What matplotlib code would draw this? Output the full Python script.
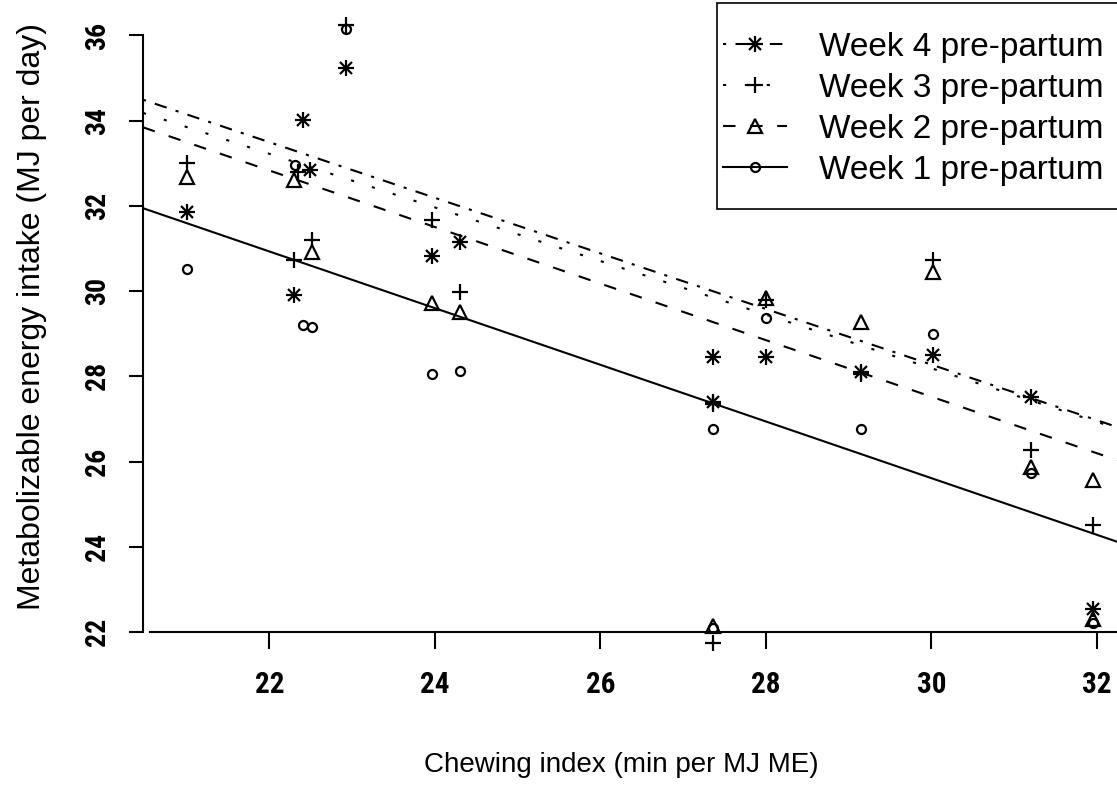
import matplotlib
matplotlib.use("Agg")
import matplotlib.pyplot as plt
from matplotlib import font_manager
from matplotlib.lines import Line2D
from matplotlib.patches import Rectangle
from matplotlib.legend_handler import HandlerTuple

names = {f.name for f in font_manager.fontManager.ttflist}
tick_font = "Liberation Sans"
for cand in ["Liberation Sans Narrow", "Arial Narrow", "Roboto Condensed"]:
    if cand in names:
        tick_font = cand
        break
plt.rcParams["font.family"] = ["Liberation Sans", "DejaVu Sans"]

# Data
w4_x = [21.0, 22.41, 22.49, 22.30, 22.93, 23.96, 24.30, 27.36, 27.36, 28.00, 29.15, 30.02, 31.20, 31.95]
w4_y = [31.86, 34.02, 32.84, 29.91, 35.23, 30.82, 31.16, 28.46, 27.40, 28.46, 28.11, 28.50, 27.52, 22.55]
w3_x = [21.0, 22.51, 22.30, 22.35, 22.93, 23.96, 24.30, 27.36, 27.36, 28.00, 29.15, 30.02, 31.20, 31.95]
w3_y = [33.00, 31.20, 30.73, 32.80, 36.25, 31.67, 29.99, 27.35, 21.74, 29.80, 28.05, 30.73, 26.27, 24.51]
w2_x = [21.0, 22.30, 22.51, 23.96, 24.30, 27.36, 28.00, 29.15, 30.02, 31.20, 31.95, 31.95]
w2_y = [32.69, 32.60, 30.93, 29.71, 29.52, 22.15, 29.83, 29.28, 30.46, 25.88, 25.57, 22.30]
w1_x = [21.0, 22.31, 22.40, 22.51, 22.93, 23.96, 24.30, 27.36, 27.36, 28.00, 29.15, 30.02, 31.20, 31.95]
w1_y = [30.53, 32.96, 29.20, 29.16, 36.15, 28.05, 28.13, 26.76, 22.10, 29.38, 26.76, 28.99, 25.72, 22.20]

# fitted lines: intercept at x = 0 and slope
intercepts = [47.85, 47.06, 47.43, 45.56]
slopes = [-0.6525, -0.629, -0.6636, -0.665]
labels = ["Week 4 pre-partum", "Week 3 pre-partum", "Week 2 pre-partum", "Week 1 pre-partum"]
styles = [(0, (1.5, 4.5, 6, 4.5)), (0, (1.5, 9)), (0, (6, 7)), "-"]

fig = plt.figure(figsize=(11.17, 7.89), dpi=100)
ax = fig.add_axes([0.128, 0.1612, 0.872, 0.8388])
ax.set_xlim(20.471, 32.242)
ax.set_ylim(21.3, 36.833)

lw = 1.5
for b, m, ls in zip(intercepts, slopes, styles):
    ax.axline((0, b), slope=m, color="black", lw=lw, linestyle=ls)

mk = dict(color="black", linestyle="none", markeredgewidth=1.6, clip_on=False)
ax.plot(w4_x, w4_y, marker="+", markersize=11, **mk)
ax.plot(w4_x, w4_y, marker="x", markersize=8, **mk)
ax.plot(w3_x, w3_y, marker="+", markersize=12, **mk)
ax.plot(w2_x, w2_y, marker="^", markersize=10, markerfacecolor="none", **mk)
ax.plot(w1_x, w1_y, marker="o", markersize=6.5, markerfacecolor="none", **mk)

for s in ["top", "right"]:
    ax.spines[s].set_visible(False)
ax.spines["bottom"].set_position(("data", 22))
ax.spines["bottom"].set_bounds(20.55, 32.242)
ax.spines["left"].set_bounds(22, 36)
for s in ["bottom", "left"]:
    ax.spines[s].set_linewidth(1.5)

ax.set_xticks([22, 24, 26, 28, 30, 32])
ax.set_yticks([22, 24, 26, 28, 30, 32, 34, 36])
ax.tick_params(axis="x", length=12, width=1.5, labelsize=21, pad=16)
ax.tick_params(axis="y", length=10, width=1.5, labelsize=20, pad=13)
for t in ax.get_xticklabels() + ax.get_yticklabels():
    t.set_fontfamily(tick_font)
    t.set_fontweight("bold")
for t in ax.get_yticklabels():
    t.set_rotation(90)
    t.set_va("center")

fig.text(621 / 1117, 1 - 765 / 789, "Chewing index (min per MJ ME)", fontsize=20,
         ha="center", va="center")
fig.text(32 / 1117, 1 - 316 / 789, "Metabolizable energy intake (MJ per day)", fontsize=23,
         ha="center", va="center", rotation=90)

# legend box (extends past the right edge)
fig.add_artist(Rectangle((717 / 1117, 1 - 209 / 789), 0.5, 206 / 789, transform=fig.transFigure,
                         facecolor="white", edgecolor="black", linewidth=1.2, zorder=3))

h4 = (Line2D([], [], color="black", lw=lw, linestyle=styles[0]),
      Line2D([], [], color="black", marker="+", markersize=11, markeredgewidth=1.6, linestyle="none"),
      Line2D([], [], color="black", marker="x", markersize=8, markeredgewidth=1.6, linestyle="none"))
h3 = (Line2D([], [], color="black", lw=lw, linestyle=styles[1]),
      Line2D([], [], color="black", marker="+", markersize=12, markeredgewidth=1.6, linestyle="none"))
h2 = (Line2D([], [], color="black", lw=lw, linestyle=styles[2]),
      Line2D([], [], color="black", marker="^", markersize=10, markerfacecolor="none",
             markeredgewidth=1.6, linestyle="none"))
h1 = (Line2D([], [], color="black", lw=lw, linestyle=styles[3]),
      Line2D([], [], color="black", marker="o", markersize=6.5, markerfacecolor="none",
             markeredgewidth=1.6, linestyle="none"))
leg = fig.legend([h4, h3, h2, h1], labels, handler_map={tuple: HandlerTuple(ndivide=1)},
                 loc="upper left", bbox_to_anchor=(723 / 1117, 1 - 32 / 789), fontsize=24,
                 frameon=False, borderpad=0, labelspacing=0.3, handlelength=1.92,
                 handletextpad=0.95, borderaxespad=0)
leg.set_zorder(5)

fig.savefig("out.png", dpi=100)
